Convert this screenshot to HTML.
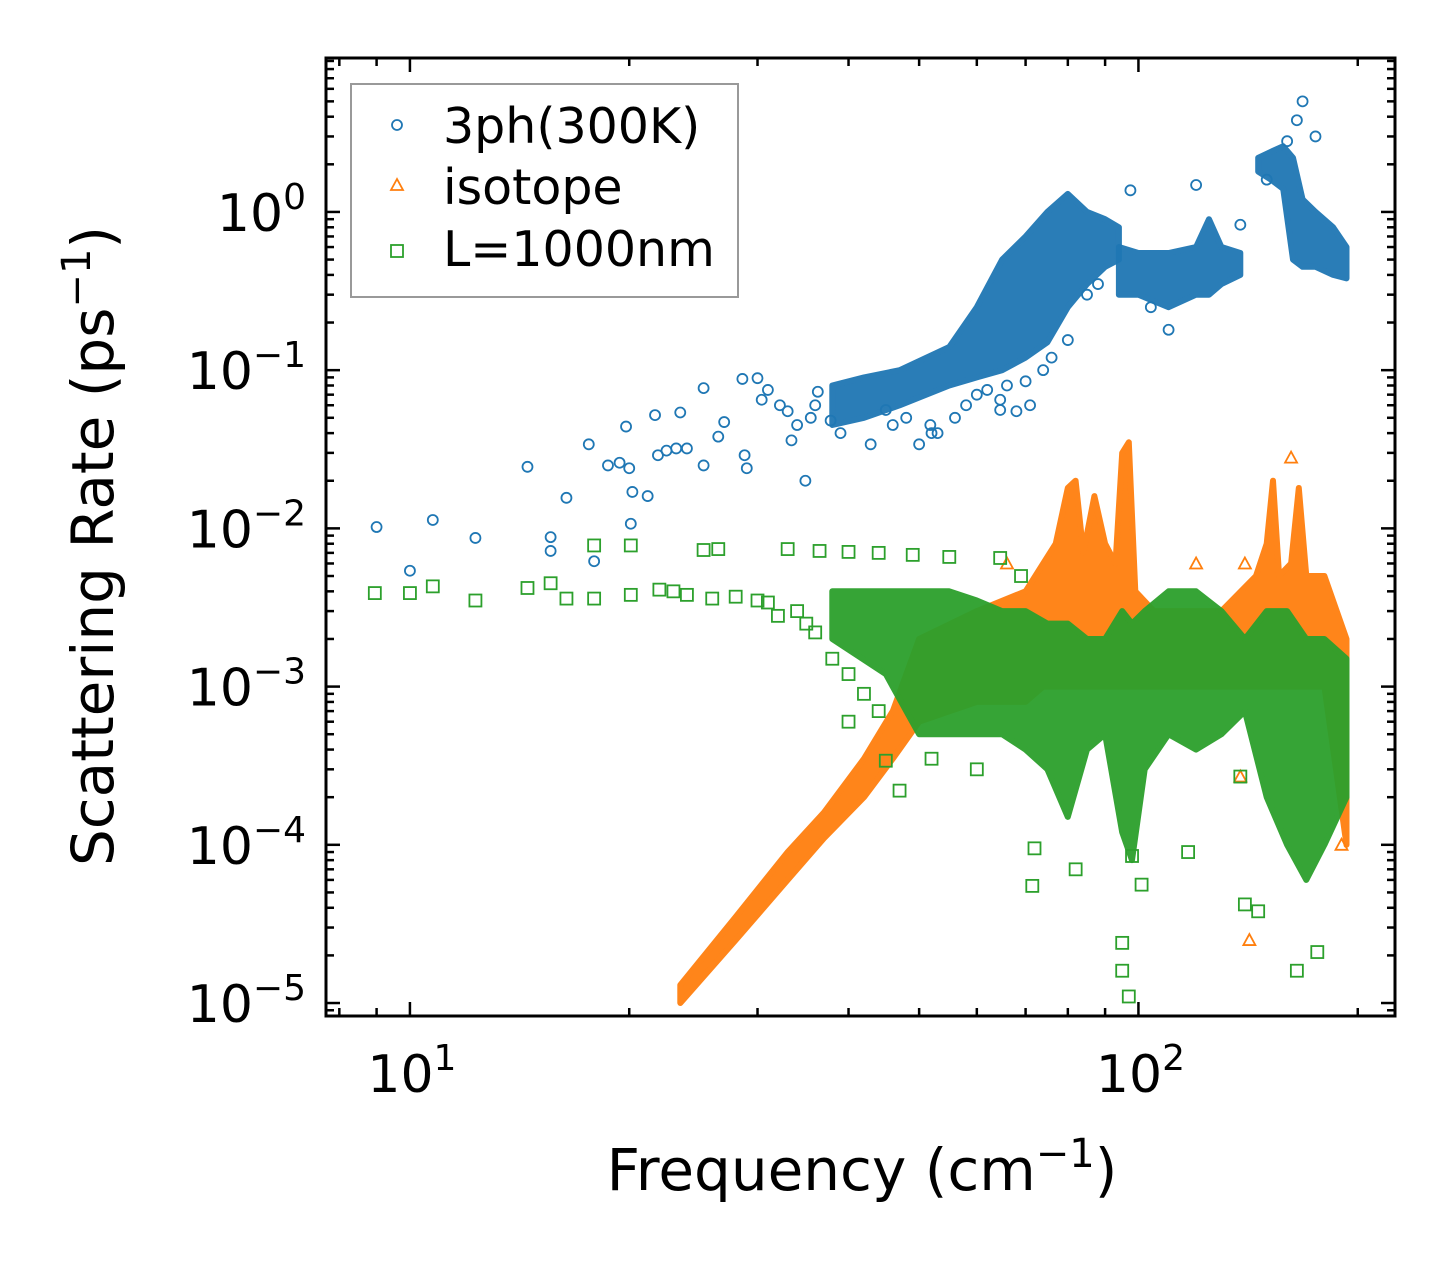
<!DOCTYPE html>
<html><head><meta charset="utf-8"><style>
html,body{margin:0;padding:0;background:#fff}
svg{display:block}
text{font-family:"DejaVu Sans","Liberation Sans",sans-serif;fill:#000}
</style></head><body>
<svg id="chart" width="1455" height="1265" viewBox="0 0 1455 1265" xmlns="http://www.w3.org/2000/svg">
<rect width="1455" height="1265" fill="#fff"/>
<g id="plot"></g>
<g id="axes"></g>
<g>
<rect x="351" y="84" width="387" height="213" fill="#fff" fill-opacity="0.8" stroke="#999" stroke-width="2"/>
<circle cx="397" cy="125" r="5" fill="none" stroke="#1f77b4" stroke-width="1.8"/>
<text x="443" y="143" font-size="49">3ph(300K)</text>
<polygon points="397,179 391,190 403,190" fill="none" stroke="#ff7f0e" stroke-width="1.8"/>
<text x="443" y="204" font-size="49">isotope</text>
<rect x="391" y="245" width="12" height="12" fill="none" stroke="#2ca02c" stroke-width="1.8"/>
<text x="443" y="266" font-size="49">L=1000nm</text>
</g>
<text x="862" y="1190" font-size="58" text-anchor="middle">Frequency (cm<tspan dy="-23" font-size="40">−1</tspan><tspan dy="23">)</tspan></text>
<text transform="translate(113,546) rotate(-90)" font-size="58" text-anchor="middle">Scattering Rate (ps<tspan dy="-23" font-size="40">−1</tspan><tspan dy="23">)</tspan></text>
</svg>
<script>
// ---- data ----
const xDomain = [7.67, 225];
const yDomain = [10 ** -5.082, 10 ** 0.973];
const xTickDecades = [1, 2];
const yTickDecades = [0, -1, -2, -3, -4, -5];
// dense regions: [freq, low, high]
const blueBand1 = [[38,0.045,0.08],[42,0.05,0.09],[47,0.06,0.1],[55,0.08,0.14],[60,0.09,0.25],[65,0.1,0.5],[70,0.12,0.7],[75,0.15,1.0],[80,0.25,1.3],[85,0.35,1.0],[90,0.45,0.9],[94,0.5,0.8]];
const blueBand2 = [[94,0.3,0.6],[100,0.3,0.55],[110,0.25,0.55],[120,0.3,0.6],[125,0.3,0.9],[130,0.35,0.6],[138,0.4,0.55]];
const blueBand3 = [[146,1.8,2.2],[152,1.6,2.4],[158,1.4,2.6],[163,0.5,2.2],[168,0.45,1.2],[175,0.45,1.0],[185,0.4,0.8],[193,0.38,0.6]];
const orangeBand = [[23.5,1.0e-5,1.3e-5],[28,2.5e-5,3.5e-5],[33,6e-5,9e-5],[37,1.1e-4,1.6e-4],[42,2e-4,3.5e-4],[46,3.5e-4,7e-4],[50,6e-4,2e-3],[60,8e-4,3e-3],[70,8e-4,4e-3],[74,1e-3,6e-3],[77,1e-3,0.008],[80,1e-3,0.018],[82,1e-3,0.02],[84,1e-3,0.007],[87,1e-3,0.016],[90,1e-3,0.008],[93,1e-3,0.006],[95,1e-3,0.03],[97,1e-3,0.035],[99,1e-3,0.004],[105,1e-3,0.003],[130,1e-3,0.003],[145,1e-3,0.005],[150,1e-3,0.008],[153,1e-3,0.02],[156,1e-3,0.005],[162,1e-3,0.006],[166,1e-3,0.018],[170,1e-3,0.005],[180,1e-3,0.005],[193,1e-4,0.002]];
const greenBand = [[38,0.002,0.004],[45,0.0012,0.004],[50,0.0005,0.004],[55,0.0005,0.004],[60,0.0005,0.0035],[65,0.0005,0.003],[70,0.0004,0.003],[75,0.0003,0.0025],[80,0.00015,0.0025],[85,0.0004,0.002],[90,0.0005,0.002],[95,0.00012,0.003],[98,0.00008,0.0025],[102,0.0003,0.003],[110,0.0005,0.004],[120,0.0004,0.004],[130,0.0005,0.003],[140,0.0007,0.002],[150,0.0002,0.003],[160,0.0001,0.003],[170,0.00006,0.002],[180,0.0001,0.002],[193,0.0002,0.0015]];
// scattered points: [freq, rate]
const bluePoints = [[9,0.0102],[10,0.0054],[10.75,0.0113],[12.3,0.0087],[14.5,0.0245],[15.6,0.0072],[15.6,0.0088],[16.4,0.0156],[17.6,0.034],[17.9,0.0062],[18.7,0.025],[19.4,0.026],[19.8,0.044],[20,0.024],[20.2,0.017],[20.1,0.0107],[21.2,0.016],[21.7,0.052],[21.9,0.029],[23.2,0.032],[23.5,0.054],[25.3,0.077],[25.3,0.025],[26.5,0.038],[27,0.047],[28.6,0.088],[28.8,0.029],[29,0.024],[30,0.089],[30.4,0.065],[32.2,0.06],[33.4,0.036],[34.9,0.02],[36.3,0.073],[35.5,0.05],[37.8,0.048],[39,0.04],[42.9,0.034],[45,0.056],[50,0.034],[51.8,0.045],[53,0.04],[64.6,0.065],[64.6,0.056],[71,0.06],[80,0.155],[97.5,1.37],[120,1.48],[138,0.83],[150,1.6],[168,5.0],[175,3.0],[165,3.8],[160,2.8],[110,0.18],[104,0.25],[68,0.055],[60,0.07],[31,0.075],[33,0.055],[34,0.045],[36,0.06],[46,0.045],[48,0.05],[52,0.04],[56,0.05],[58,0.06],[62,0.075],[66,0.08],[70,0.085],[74,0.1],[76,0.12],[85,0.3],[88,0.35],[24,0.032],[22.5,0.031]];
const orangePoints = [[162,0.028],[142,2.5e-5],[138,2.7e-4],[190,1e-4],[140,0.006],[120,0.006],[66,0.006]];
const greenPoints = [[8.95,0.0039],[10,0.0039],[10.75,0.0043],[12.3,0.0035],[14.5,0.0042],[15.6,0.0045],[16.4,0.0036],[17.9,0.0036],[17.9,0.0078],[20.1,0.0078],[20.1,0.0038],[22,0.0041],[25.3,0.0073],[26.5,0.0074],[33,0.0074],[36.5,0.0072],[40,0.0071],[44,0.007],[49,0.0068],[55,0.0066],[64.6,0.0065],[69,0.005],[72,9.5e-5],[71.5,5.5e-5],[82,7e-5],[95,2.4e-5],[95,1.6e-5],[97,1.1e-5],[98,8.5e-5],[101,5.6e-5],[117,9e-5],[140,4.2e-5],[146,3.8e-5],[165,1.6e-5],[176,2.1e-5],[138,2.7e-4],[40,6e-4],[45,3.4e-4],[47,2.2e-4],[52,3.5e-4],[60,3e-4],[30,0.0035],[34,0.003],[23,0.004],[24,0.0038],[26,0.0036],[28,0.0037],[31,0.0034],[32,0.0028],[35,0.0025],[36,0.0022],[38,0.0015],[40,0.0012],[42,0.0009],[44,0.0007]];

// ---- scales ----
const X0 = 326, X1 = 1395, Y0 = 58, Y1 = 1016;
const lx0 = Math.log10(xDomain[0]), lx1 = Math.log10(xDomain[1]);
const ly0 = Math.log10(yDomain[0]), ly1 = Math.log10(yDomain[1]);
function sx(v){ return X0 + (Math.log10(v) - lx0) / (lx1 - lx0) * (X1 - X0); }
function sy(v){ return Y1 - (Math.log10(v) - ly0) / (ly1 - ly0) * (Y1 - Y0); }
const NS = 'http://www.w3.org/2000/svg';
const plot = document.getElementById('plot');
const axes = document.getElementById('axes');
function mk(tag, attrs, parent){ const e = document.createElementNS(NS, tag); for (const k in attrs) e.setAttribute(k, attrs[k]); parent.appendChild(e); return e; }

function band(data, color, name){
  const top = data.map(d => sx(d[0]).toFixed(1) + ',' + sy(d[2]).toFixed(1));
  const bot = data.slice().reverse().map(d => sx(d[0]).toFixed(1) + ',' + sy(d[1]).toFixed(1));
  const p = mk('polygon', {points: top.concat(bot).join(' '), fill: color, stroke: color, 'stroke-width': 6, 'stroke-linejoin': 'round', opacity: 0.95}, plot);
  
  
}
function circles(data, color){
  data.forEach(d => {
    const c = mk('circle', {cx: sx(d[0]), cy: sy(d[1]), r: 5, fill: 'none', stroke: color, 'stroke-width': 1.8}, plot);
    
    
  });
}
function tris(data, color){
  data.forEach(d => {
    const x = sx(d[0]), y = sy(d[1]);
    const t = mk('polygon', {points: `${x},${y-6} ${x-6},${y+5} ${x+6},${y+5}`, fill: 'none', stroke: color, 'stroke-width': 1.8}, plot);
    
    
  });
}
function squares(data, color){
  data.forEach(d => {
    const s = mk('rect', {x: sx(d[0]) - 6, y: sy(d[1]) - 6, width: 12, height: 12, fill: 'none', stroke: color, 'stroke-width': 1.8}, plot);
    
    
  });
}
band(blueBand1, '#1f77b4', 'band-3ph-low');
band(blueBand2, '#1f77b4', 'band-3ph-mid');
band(blueBand3, '#1f77b4', 'band-3ph-high');
circles(bluePoints, '#1f77b4');
band(orangeBand, '#ff7f0e', 'band-isotope');
tris(orangePoints, '#ff7f0e');
band(greenBand, '#2ca02c', 'band-boundary');
squares(greenPoints, '#2ca02c');

// ---- axes ----
const frame = mk('rect', {x: X0, y: Y0, width: X1 - X0, height: Y1 - Y0, fill: 'none', stroke: '#000', 'stroke-width': 3}, axes);


function tickLine(x1, y1, x2, y2, name){
  const l = mk('line', {x1, y1, x2, y2, stroke: '#000', 'stroke-width': 2.5}, axes);
  
  
}
for (let d = 0; d <= 2; d++){
  for (let m = 1; m <= 9; m++){
    const v = m * 10 ** d;
    if (v < xDomain[0] || v > xDomain[1]) continue;
    const x = sx(v), len = m === 1 ? 14 : 8;
    tickLine(x, Y1, x, Y1 - len, 'x-tick');
    tickLine(x, Y0, x, Y0 + len, 'x-tick-top');
  }
}
for (let d = -6; d <= 0; d++){
  for (let m = 1; m <= 9; m++){
    const v = m * 10 ** d;
    if (v < yDomain[0] || v > yDomain[1]) continue;
    const y = sy(v), len = m === 1 ? 14 : 8;
    tickLine(X0, y, X0 + len, y, 'y-tick');
    tickLine(X1, y, X1 - len, y, 'y-tick-right');
  }
}
xTickDecades.forEach(e => {
  const t = mk('text', {x: sx(10 ** e) + 2, y: 1092, 'font-size': 52, 'text-anchor': 'middle'}, axes);
  
  
  t.innerHTML = `10<tspan dy="-22" font-size="36">${e}</tspan>`;
});
yTickDecades.forEach(e => {
  const t = mk('text', {x: 306, y: sy(10 ** e) + 19, 'font-size': 52, 'text-anchor': 'end'}, axes);
  
  
  const lab = e < 0 ? '−' + (-e) : String(e);
  t.innerHTML = `10<tspan dy="-22" font-size="36">${lab}</tspan>`;
});
</script>
</body></html>
